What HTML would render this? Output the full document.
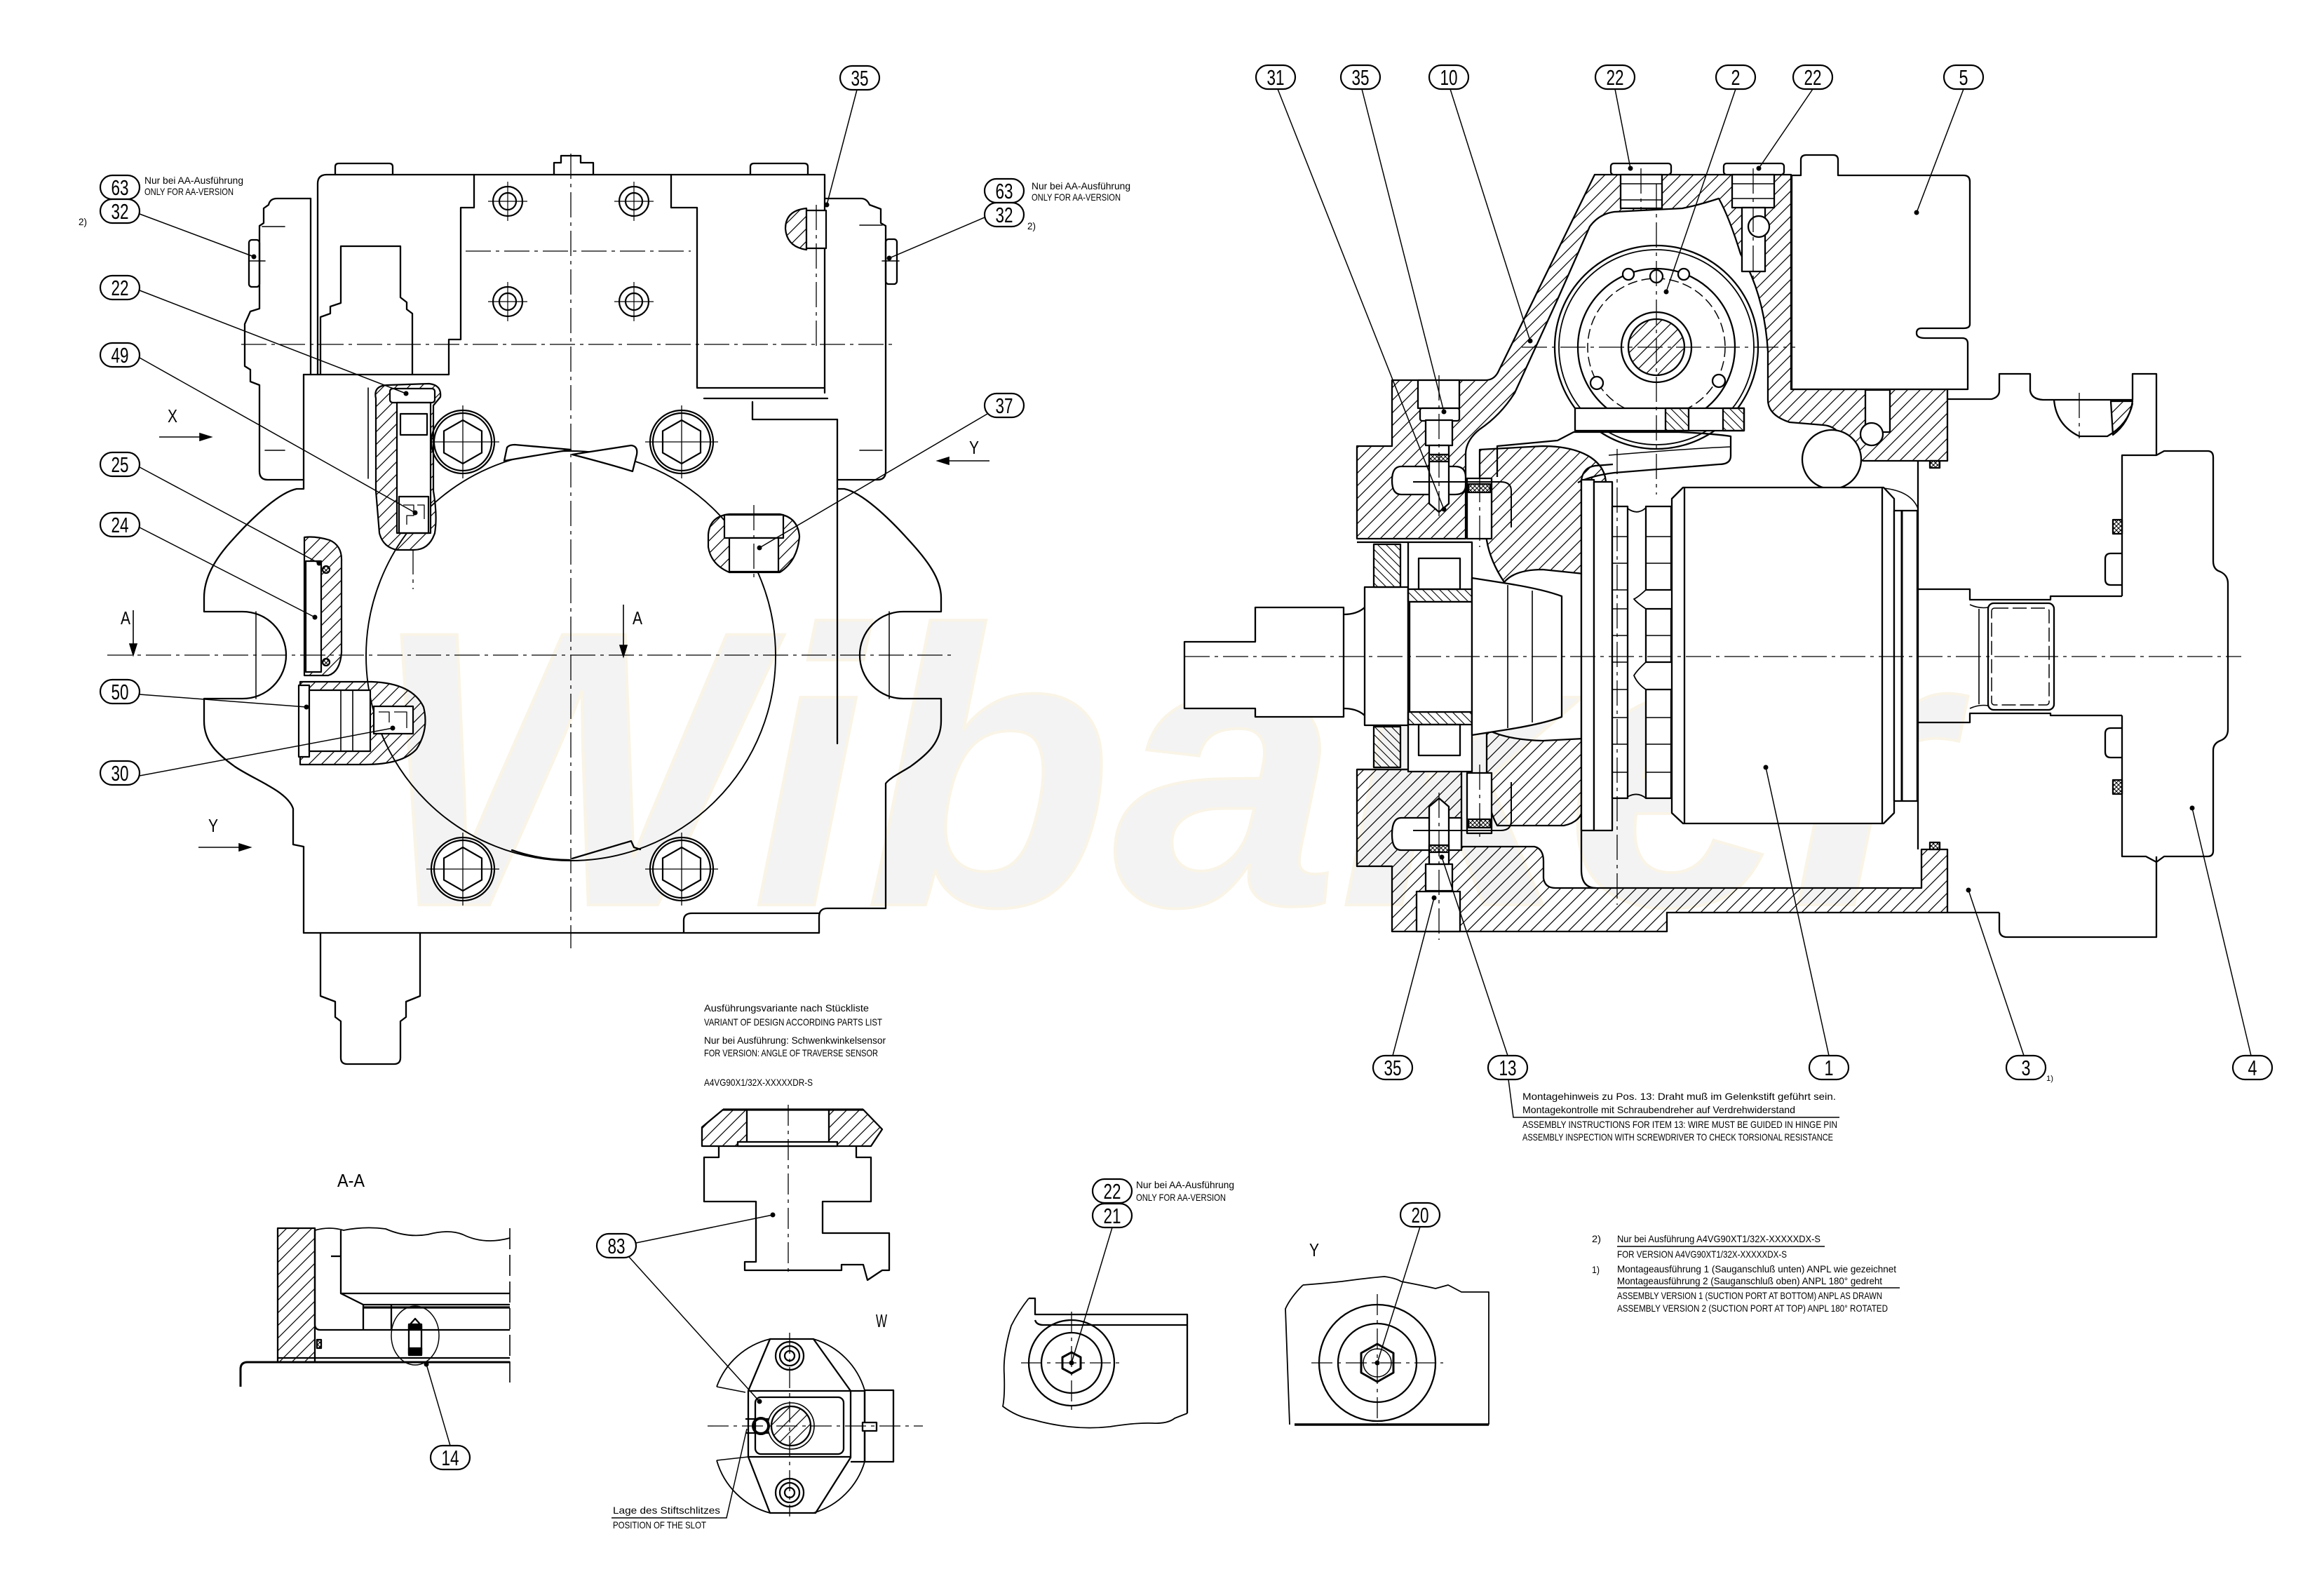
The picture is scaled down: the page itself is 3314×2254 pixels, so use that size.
<!DOCTYPE html>
<html><head><meta charset="utf-8">
<style>
html,body{margin:0;padding:0;background:#fff;}
svg{display:block;}
text{font-family:"Liberation Sans","DejaVu Sans",sans-serif;fill:#000;stroke:none;}
</style></head><body>
<svg width="3314" height="2254" viewBox="0 0 3314 2254" xmlns="http://www.w3.org/2000/svg">
<defs>
<pattern id="h" patternUnits="userSpaceOnUse" width="18" height="18"><path d="M-2,20 L20,-2 M-2,2 L2,-2 M16,20 L20,16" stroke="#000" stroke-width="1.2" fill="none"/></pattern>
<pattern id="h2" patternUnits="userSpaceOnUse" width="12" height="12"><path d="M-2,-2 L14,14 M-2,10 L2,14 M10,-2 L14,2" stroke="#000" stroke-width="1.1" fill="none"/></pattern>
<pattern id="hx" patternUnits="userSpaceOnUse" width="6" height="6"><path d="M0,6 L6,0 M0,0 L6,6" stroke="#000" stroke-width="1" fill="none"/></pattern>
<g id="bl">
<circle r="45" fill="#fff"/><circle r="41"/>
<polygon points="0,-31 27,-15.5 27,15.5 0,31 -27,15.5 -27,-15.5"/>
<path d="M-52,0 H52 M0,-52 V52" stroke-width="1.3"/>
</g>
<g id="bs">
<circle r="21" fill="#fff"/><circle r="12"/>
<path d="M-28,0 H28 M0,-28 V28" stroke-width="1.2"/>
</g>
</defs>

<!-- watermark -->
<text x="530" y="1290" font-size="560" font-weight="bold" font-style="italic" textLength="2250" lengthAdjust="spacingAndGlyphs" style="fill:#f3f3f3;stroke:#f9f4e6;stroke-width:4">Wibaker</text>

<!-- ================= LEFT VIEW ================= -->
<g fill="none" stroke="#000" stroke-width="2.3" stroke-linejoin="round" stroke-linecap="round">
<path d="M453,534 V262 Q453,249 466,249 H1176 V560"/>
<path d="M443,283 V534"/>
<path d="M478,249 V238 Q478,233 483,233 H555 Q560,233 560,238 V249"/>
<path d="M1070,249 V238 Q1070,233 1075,233 H1147 Q1152,233 1152,238 V249"/>
<path d="M790,249 V232 H800 V222 H828 V232 H846 V249"/>
<path d="M443,283 H395 Q385,283 383,292 L376,297 V318 L370,322 V440 L357,444 L349,462 V522 L357,527 V544 L370,549 V672 Q370,684 382,684 H433"/>
<rect x="355" y="342" width="15" height="67" rx="4"/>
<path d="M374,323 H406 M378,642 H406 M355,372 H378" stroke-width="1.6"/>
<path d="M1176,283 H1228 Q1236,283 1240,292 L1256,298 V318 L1263,322 V672 Q1263,684 1251,684 H1194"/>
<rect x="1263" y="341" width="16" height="64" rx="4"/>
<path d="M1226,321 H1258 M1226,642 H1258 M1258,372 H1282" stroke-width="1.6"/>
<path d="M1176,385 V465" stroke-width="1.6"/>
<path d="M676,249 V296 H657 V484 H640 V534 M433,534 H640"/>
<path d="M957,249 V296 H994 V553 H1176"/>
<path d="M1004,568 H1180 M1073,573 V598 H1194"/>
<path d="M457,534 V452 L471,447 V437 L486,432 V351 H571 V424 L580,431 V441 L588,447 V534"/>
<path d="M525,553 V682" stroke-width="1.6"/>
<path d="M433,534 V697 H423 C398,702 360,738 333,768 C305,798 291,825 291,852 V872 H346 A62,62 0 0 1 346,996 H291 V1028 C291,1058 310,1075 335,1093 C365,1113 410,1128 418,1153 V1204 L433,1207 V1330"/>
<path d="M365,872 V996" stroke-width="1.5"/>
<path d="M1194,697 H1204 C1229,702 1267,738 1294,768 C1322,798 1342,825 1342,852 V872 H1288 A62,62 0 0 0 1288,996 H1342 V1028 C1342,1058 1323,1075 1298,1093 C1280,1104 1268,1110 1263,1117 V1295 H1180 Q1168,1295 1168,1307 V1330"/>
<path d="M1268,872 V996" stroke-width="1.5"/>
<path d="M1194,598 V1060"/>
<path d="M433,1330 H1168 M975,1330 V1312 Q975,1302 987,1302 H1168"/>
<path d="M457,1330 V1420 L478,1428 V1450 L486,1456 V1508 Q486,1517 495,1517 H562 Q571,1517 571,1508 V1456 L579,1450 V1428 L599,1420 V1330"/>
<circle cx="814" cy="935" r="292" stroke-width="1.9"/>
<path d="M719,657 L723,638 Q726,634 734,634 L814,641 Z" fill="#fff"/>
<path d="M816,648 L900,635 Q910,636 908,648 L902,672 Q870,662 816,648 Z" fill="#fff"/>
<path d="M816,1224 L900,1199 L904,1208 L913,1211" />
<path d="M730,1212 Q770,1226 812,1226" />
</g>
<g fill="none" stroke="#000" stroke-width="2.2">
<use href="#bs" x="724" y="287"/><use href="#bs" x="904" y="287"/>
<use href="#bs" x="724" y="430"/><use href="#bs" x="904" y="430"/>
<use href="#bl" x="660" y="630"/><use href="#bl" x="972" y="630"/>
<use href="#bl" x="660" y="1239"/><use href="#bl" x="972" y="1239"/>
</g>
<g stroke="#000" stroke-width="2.2" stroke-linejoin="round">
<path d="M536,568 Q532,550 552,549 L612,547 Q630,549 628,566 L618,578 L618,700 Q624,735 620,760 Q612,784 590,784 L566,784 Q546,780 541,760 L536,700 Z" fill="url(#h)"/>
<rect x="556" y="554" width="64" height="20" rx="4" fill="#fff"/>
<rect x="566" y="574" width="48" height="186" fill="#fff"/>
<rect x="571" y="590" width="38" height="30" fill="none"/>
<rect x="569" y="708" width="42" height="52" fill="none"/>
<path d="M575,720 H590 V735 H580 V748 M595,720 H605 V740" fill="none" stroke-width="1.3"/>
<path d="M1010,762 Q1012,736 1040,733 L1112,733 Q1138,738 1140,765 Q1137,800 1112,816 L1040,816 Q1014,805 1010,780 Z" fill="url(#h)"/>
<rect x="1033" y="734" width="84" height="33" fill="#fff"/>
<rect x="1040" y="767" width="70" height="48" fill="#fff"/>
<path d="M434,766 Q450,764 470,770 Q488,778 487,800 L487,930 Q485,958 468,963 L434,963 Z" fill="url(#h)"/>
<rect x="436" y="800" width="22" height="158" fill="#fff"/>
<circle cx="465" cy="812" r="5" fill="url(#hx)"/><circle cx="465" cy="944" r="5" fill="url(#hx)"/>
<path d="M428,972 H530 Q588,974 604,1008 Q612,1040 594,1068 Q574,1090 520,1090 H428 Z" fill="url(#h)"/>
<rect x="426" y="977" width="15" height="102" fill="#fff"/>
<rect x="441" y="984" width="87" height="87" fill="#fff"/>
<path d="M486,984 V1071 M503,984 V1071" fill="none" stroke-width="1.6"/>
<rect x="533" y="1007" width="56" height="39" fill="#fff"/>
<path d="M540,1015 H555 V1030 M562,1015 H580 V1038" fill="none" stroke-width="1.3"/>
<path d="M1150,297 Q1120,300 1120,326 Q1122,352 1150,356 Z" fill="url(#h)"/>
<rect x="1150" y="300" width="28" height="54" fill="#fff"/>
</g>
<g fill="none" stroke="#000" stroke-width="1.3" stroke-dasharray="36 7 5 7">
<path d="M814,219 V1352"/>
<path d="M153,934 H1358"/>
<path d="M664,358 H985"/>
<path d="M344,491 H1275"/>
<path d="M589,783 V840"/>
<path d="M1075,720 V830"/>
<path d="M1164,292 V500"/>
</g>
<g stroke="#000" stroke-width="1.6" fill="#000">
<path d="M227,623 H290" fill="none"/><path d="M301,623 L285,618 V628 Z"/>
<path d="M283,1208 H346" fill="none"/><path d="M357,1208 L341,1203 V1213 Z"/>
<path d="M1411,657 H1348" fill="none"/><path d="M1337,657 L1353,652 V662 Z"/>
<path d="M190,870 V922" fill="none"/><path d="M190,934 L185,918 H195 Z"/>
<path d="M889,862 V924" fill="none"/><path d="M889,936 L884,920 H894 Z"/>
</g>
<g font-size="26">
<text x="239" y="602" textLength="14" lengthAdjust="spacingAndGlyphs">X</text>
<text x="297" y="1186" textLength="14" lengthAdjust="spacingAndGlyphs">Y</text>
<text x="1382" y="647" textLength="14" lengthAdjust="spacingAndGlyphs">Y</text>
<text x="172" y="890" textLength="14" lengthAdjust="spacingAndGlyphs">A</text>
<text x="902" y="890" textLength="14" lengthAdjust="spacingAndGlyphs">A</text>
</g>

<!-- ================= RIGHT VIEW ================= -->
<g stroke="#000" stroke-width="2.3" stroke-linejoin="round">
<path d="M1935,636 H1985 V542 H2118 Q2130,542 2136,531 L2274,249 H2554 V555 H2777 V657 H2657 Q2640,652 2636,640 L2625,620 Q2615,607 2600,606 L2552,602 Q2521,592 2521,570 V501 Q2516,420 2482,362 Q2466,310 2451,283 Q2420,293 2399,297 L2302,302 Q2280,305 2267,323 L2221,427 L2160,560 Q2140,592 2110,612 Q2090,628 2090,648 V768 H1935 Z" fill="url(#h)"/>
<path d="M1935,1097 H2084 V1207 H2188 Q2201,1210 2201,1228 V1252 Q2203,1266 2218,1266 H2740 V1211 H2777 V1301 H2377 V1328 H1985 V1235 H1935 Z" fill="url(#h)"/>
<path d="M2110,641 L2200,636 Q2240,636 2265,650 Q2290,665 2290,690 L2258,700 V818 L2200,812 Q2160,812 2145,830 Q2125,800 2120,770 L2110,700 Z" fill="url(#h)"/>
<path d="M2120,1040 Q2150,1055 2200,1056 L2258,1053 V1150 Q2255,1172 2230,1177 H2135 Q2120,1150 2120,1110 Z" fill="url(#h)"/>
<path d="M1998,665 H2075 Q2090,665 2090,680 V692 Q2090,705 2075,705 H1998 Q1985,705 1985,685 Q1985,665 1998,665 Z" fill="#fff"/>
<path d="M1998,1166 H2084 V1212 H1998 Q1985,1212 1985,1190 Q1985,1166 1998,1166 Z" fill="#fff"/>
<rect x="2022" y="542" width="59" height="40" fill="#fff"/>
<rect x="2025" y="582" width="56" height="18" rx="3" fill="#fff"/>
<rect x="2033" y="599" width="38" height="36" fill="#fff"/>
<path d="M2038,635 V718 L2052,730 L2066,718 V635 Z" fill="#fff"/>
<rect x="2038" y="648" width="28" height="10" fill="url(#hx)"/>
<rect x="2020" y="1271" width="62" height="57" fill="#fff"/>
<rect x="2033" y="1232" width="38" height="38" fill="#fff"/>
<path d="M2038,1232 V1150 L2052,1138 L2066,1150 V1232 Z" fill="#fff"/>
<rect x="2038" y="1205" width="28" height="10" fill="url(#hx)"/>
<rect x="2297" y="233" width="86" height="16" rx="4" fill="#fff"/>
<rect x="2311" y="249" width="59" height="48" fill="#fff"/>
<path d="M2311,262 H2370 M2311,285 H2370" fill="none" stroke-width="1.5"/>
<rect x="2458" y="233" width="86" height="16" rx="4" fill="#fff"/>
<rect x="2470" y="249" width="60" height="47" fill="#fff"/>
<rect x="2484" y="296" width="33" height="91" fill="#fff"/>
<circle cx="2508" cy="323" r="15" fill="#fff"/>
<path d="M2470,262 H2530 M2470,283 H2530" fill="none" stroke-width="1.5"/>
<path d="M2555,250 H2568 V228 Q2568,221 2576,221 H2614 Q2621,221 2621,228 V250 H2800 Q2809,250 2809,259 V462 Q2809,468 2800,468 H2740 Q2733,468 2733,475 Q2733,482 2745,482 H2798 Q2806,482 2806,490 V555 H2555 Z" fill="#fff"/>
<rect x="2660" y="556" width="35" height="60" fill="#fff"/>
<circle cx="2669" cy="619" r="16" fill="#fff"/>
<circle cx="2612" cy="655" r="42" fill="#fff"/>
<circle cx="2362" cy="495" r="145" fill="#fff"/>
<circle cx="2362" cy="495" r="139" fill="none" stroke-width="1.8"/>
<circle cx="2362" cy="495" r="112" fill="none"/>
<circle cx="2362" cy="495" r="98" fill="none" stroke-width="1.5" stroke-dasharray="14 6"/>
<circle cx="2362" cy="495" r="50" fill="#fff"/>
<circle cx="2362" cy="495" r="40" fill="url(#h)"/>
<circle cx="2322" cy="391" r="8" fill="#fff"/><circle cx="2362" cy="394" r="9" fill="#fff"/><circle cx="2401" cy="391" r="8" fill="#fff"/>
<circle cx="2277" cy="546" r="9" fill="#fff"/><circle cx="2451" cy="543" r="9" fill="#fff"/>
<rect x="2246" y="582" width="241" height="32" fill="#fff"/>
<rect x="2375" y="582" width="33" height="32" fill="url(#h2)"/>
<rect x="2457" y="582" width="30" height="32" fill="url(#h2)"/>
<path d="M2135,680 V636 Q2180,632 2221,628 L2244,616 H2394 Q2440,618 2468,622 V650 Q2468,662 2451,662 L2302,674 Q2270,678 2250,688" fill="none"/>
<path d="M2294,649 Q2400,640 2468,637" fill="none" stroke-width="1.5"/>
<path d="M2255,1240 V684 Q2258,666 2275,664 L2300,662 M2255,1240 Q2255,1266 2276,1266" fill="none"/>
<path d="M2735,657 V1211" fill="none"/>
<path d="M2686,696 Q2725,700 2735,725" fill="none" stroke-width="1.6"/>
<path d="M1689,915 H1790 V866 H1916 V1022 H1790 V1010 H1689 Z" fill="#fff"/>
<path d="M1916,876 Q1935,876 1946,866 M1916,1010 Q1935,1010 1946,1020" fill="none"/>
<rect x="1946" y="837" width="62" height="197" fill="#fff"/>
<path d="M1935,773 H2008 M1935,1097 H2008" fill="none"/>
<rect x="1959" y="776" width="38" height="61" fill="url(#h2)"/>
<rect x="1959" y="1036" width="38" height="58" fill="url(#h2)"/>
<rect x="2008" y="773" width="91" height="327" fill="#fff"/>
<rect x="2023" y="796" width="59" height="44" fill="#fff"/>
<rect x="2023" y="1033" width="59" height="44" fill="#fff"/>
<rect x="2008" y="840" width="91" height="18" fill="url(#h2)"/>
<rect x="2008" y="1015" width="91" height="18" fill="url(#h2)"/>
<rect x="2010" y="858" width="89" height="157" fill="#fff"/>
<path d="M2099,824 L2150,832 Q2200,840 2227,850 V1022 Q2200,1032 2150,1040 L2099,1048 Z" fill="#fff"/>
<path d="M2150,834 V1038 M2185,842 V1030 M2099,830 V1045" fill="none" stroke-width="1.6"/>
<rect x="2092" y="682" width="35" height="86" fill="#fff"/>
<rect x="2092" y="1102" width="35" height="86" fill="#fff"/>
<rect x="2094" y="690" width="31" height="12" fill="url(#hx)"/>
<rect x="2094" y="1168" width="31" height="12" fill="url(#hx)"/>
<path d="M2015,687 H2140 Q2155,687 2155,700 V752" fill="none" stroke-width="2"/>
<path d="M2015,1184 H2140 Q2155,1184 2155,1170 V1115" fill="none" stroke-width="2"/>
<rect x="2255" y="684" width="18" height="500" fill="#fff"/>
<rect x="2273" y="687" width="26" height="497" fill="#fff"/>
<rect x="2299" y="722" width="22" height="416" fill="#fff"/>
<path d="M2299,765 H2321 M2299,803 H2321 M2299,841 H2321 M2299,868 H2321 M2299,906 H2321 M2299,944 H2321 M2299,983 H2321 M2299,1023 H2321 M2299,1061 H2321 M2299,1101 H2321" fill="none" stroke-width="1.6"/>
<path d="M2321,725 Q2335,735 2347,724 V841 Q2335,852 2330,854 Q2335,860 2347,868 V944 Q2335,955 2330,963 Q2335,975 2347,983 V1138 Q2335,1128 2321,1136" fill="none" stroke-width="1.8"/>
<rect x="2347" y="722" width="36" height="119" fill="#fff"/>
<rect x="2347" y="868" width="36" height="76" fill="#fff"/>
<rect x="2347" y="983" width="36" height="155" fill="#fff"/>
<path d="M2347,765 H2383 M2347,803 H2383 M2347,906 H2383 M2347,1023 H2383 M2347,1061 H2383 M2347,1101 H2383" fill="none" stroke-width="1.6"/>
<path d="M2400,695 H2686 L2701,711 V1159 L2686,1174 H2400 L2384,1159 V711 Z" fill="#fff"/>
<path d="M2402,695 V1174 M2684,695 V1174" fill="none"/>
<rect x="2701" y="728" width="33" height="414" fill="#fff"/>
<path d="M2712,728 V1142" fill="none" stroke-width="3"/>
<path d="M2777,569 H2840 Q2851,566 2851,557 V533 H2895 V557 Q2897,569 2913,570 H3041 V533 H3075 V649" fill="none"/>
<path d="M2929,570 Q2932,606 2965,622 H3005 Q3035,605 3041,575" fill="none"/>
<path d="M3010,572 H3041 Q3036,603 3013,620 Z" fill="url(#h)"/>
<path d="M3075,1221 V1336 H2862 Q2851,1336 2851,1325 V1301 M2777,1301 H2851" fill="none"/>
<path d="M2735,840 H2809 V855 H2924 V850 H3026 M2735,1030 H2809 V1017 H2924 V1020 H3026" fill="none"/>
<rect x="2835" y="860" width="94" height="152" rx="8" fill="#fff"/>
<rect x="2840" y="867" width="82" height="138" rx="4" fill="none" stroke-width="1.5" stroke-dasharray="20 6"/>
<path d="M2809,862 Q2822,868 2835,866 M2809,1010 Q2822,1004 2835,1006 M2822,868 V1004" fill="none" stroke-width="1.6"/>
<path d="M3026,850 V649 H3075 L3086,643 H3148 Q3156,643 3156,652 V800 Q3156,812 3166,815 Q3177,820 3177,832 V1040 Q3177,1052 3166,1056 Q3156,1060 3156,1070 V1213 Q3156,1221 3148,1221 H3086 L3075,1229 L3060,1221 H3026 V1020" fill="none"/>
<path d="M3026,789 H3010 Q3002,789 3002,797 V826 Q3002,834 3010,834 H3026 M3026,1038 H3010 Q3002,1038 3002,1046 V1072 Q3002,1080 3010,1080 H3026" fill="none"/>
<rect x="3013" y="741" width="13" height="20" fill="url(#hx)"/>
<rect x="3013" y="1112" width="13" height="20" fill="url(#hx)"/>
<rect x="2752" y="657" width="14" height="10" fill="url(#hx)"/>
<rect x="2752" y="1201" width="14" height="10" fill="url(#hx)"/>
</g>
<g fill="none" stroke="#000" stroke-width="1.3" stroke-dasharray="36 7 5 7">
<path d="M1689,936 H3196"/>
<path d="M2170,495 H2560"/>
<path d="M2362,262 V705"/>
<path d="M2306,640 V1290"/>
<path d="M2052,535 V740 M2052,1130 V1340"/>
<path d="M2965,560 V625"/>
<path d="M2500,240 V400"/>
<path d="M2340,240 V300"/>
<path d="M2110,680 V780 M2110,1090 V1195"/>
</g>

<!-- ================= BOTTOM DETAILS ================= -->
<g fill="none" stroke="#000" stroke-width="2.3" stroke-linejoin="round">
<rect x="396" y="1751" width="53" height="191" fill="url(#h)"/>
<path d="M343,1977 V1952 Q343,1942 353,1942 H727" stroke-width="3"/>
<path d="M396,1936 H727"/>
<path d="M449,1754 V1888 Q449,1896 457,1896 H727"/>
<path d="M486,1754 V1844 L518,1860 H727 M486,1844 H727"/>
<path d="M518,1864 H727" stroke-width="3.2"/>
<path d="M518,1860 V1896 M558,1860 V1896"/>
<path d="M449,1754 Q470,1748 490,1754 Q520,1748 550,1752 Q580,1765 610,1760 Q640,1752 660,1760 Q690,1775 727,1765" stroke-width="1.8"/>
<path d="M727,1751 V1975" stroke-width="1.6" stroke-dasharray="30 8"/>
<path d="M472,1791 H486"/>
<ellipse cx="592" cy="1904" rx="34" ry="42" stroke-width="1.5"/>
<path d="M583,1932 V1890 L592,1880 L601,1890 V1932 Z" fill="#fff"/>
<rect x="583" y="1888" width="18" height="8" fill="#000"/>
<rect x="583" y="1922" width="18" height="8" fill="#000"/>
<rect x="452" y="1910" width="6" height="12" fill="url(#hx)"/>
<path d="M1031,1582 H1231 L1258,1610 L1242,1634 H1001 V1607 Z" fill="url(#h)"/>
<rect x="1065" y="1582" width="117" height="47" fill="#fff"/>
<rect x="1052" y="1628" width="142" height="6" fill="#fff"/>
<path d="M1031,1582 H1231" stroke-width="3.2"/>
<path d="M1025,1634 V1650 H1004 V1713 H1078 V1799 H1062 V1811 H1200 V1803 H1231 L1237,1825 L1258,1811 H1268 V1758 H1173 V1713 H1242 V1650 H1221 V1634"/>
<path d="M1098,1909 H1160 L1213,1983 V2078 L1163,2157 H1098 L1067,2077 V1983 Z" fill="#fff"/>
<path d="M1067,1983 H1213 M1067,2077 H1213"/>
<rect x="1077" y="1992" width="126" height="81" rx="8"/>
<path d="M1213,1983 H1233 V2084 H1213"/>
<rect x="1233" y="1982" width="41" height="102"/>
<rect x="1230" y="2028" width="20" height="12" fill="#fff"/>
<path d="M1098,1909 A108,108 0 0 0 1022,1977 M1022,2082 A108,108 0 0 0 1098,2157 M1160,1909 A108,108 0 0 1 1233,1982 M1233,2084 A108,108 0 0 1 1160,2157" stroke-width="1.8"/>
<path d="M1022,1977 L1063,1985 M1022,2082 L1067,2077" stroke-width="1.6"/>
<path d="M1063,2023 H1097 M1063,2043 H1097"/>
<circle cx="1128" cy="2033" r="33" fill="#fff" stroke-width="1.6"/>
<circle cx="1128" cy="2033" r="28" fill="url(#h)"/>
<circle cx="1085" cy="2033" r="11" stroke-width="4"/>
<circle cx="1126" cy="1933" r="20"/><circle cx="1126" cy="1933" r="14"/><circle cx="1126" cy="1933" r="7"/>
<circle cx="1126" cy="2128" r="20"/><circle cx="1126" cy="2128" r="14"/><circle cx="1126" cy="2128" r="7"/>
<path d="M1467,1851 Q1452,1870 1442,1890 Q1430,1930 1432,1960 Q1433,1990 1430,2005 Q1450,2020 1473,2024 Q1530,2040 1583,2034 Q1620,2028 1644,2029 Q1665,2030 1675,2022 Q1685,2018 1693,2015" stroke-width="1.8"/>
<path d="M1467,1851 H1476 V1874 H1693 V2015"/>
<path d="M1476,1882 Q1478,1889 1488,1889 H1693"/>
<circle cx="1528" cy="1943" r="61"/><circle cx="1528" cy="1943" r="43"/>
<polygon points="1528,1928 1541,1935 1541,1951 1528,1958 1515,1951 1515,1935" stroke-width="3"/>
<path d="M1858,1832 Q1885,1830 1913,1827 Q1950,1822 1974,1820 Q1990,1822 1998,1827 Q2025,1832 2047,1837 L2065,1832 L2084,1842 H2123 V2031" stroke-width="1.8"/>
<path d="M1858,1832 Q1840,1850 1833,1866 Q1836,1950 1839,2031" stroke-width="1.8"/>
<path d="M1846,2031 H2123" stroke-width="3.6"/>
<circle cx="1964" cy="1943" r="83"/><circle cx="1964" cy="1943" r="56"/>
<polygon points="1964,1916 1987,1929 1987,1957 1964,1970 1941,1957 1941,1929" stroke-width="3"/>
<circle cx="1964" cy="1943" r="20" stroke-width="1.5"/>
</g>
<g fill="none" stroke="#000" stroke-width="1.3" stroke-dasharray="30 7 5 7">
<path d="M1124,1575 V1814"/>
<path d="M1009,2033 H1316"/>
<path d="M1126,1900 V2162"/>
<path d="M1456,1943 H1600 M1528,1870 V2016"/>
<path d="M1870,1943 H2058 M1964,1845 V2030"/>
</g>

<!-- ================= LEADERS ================= -->
<g fill="none" stroke="#000" stroke-width="1.5">
<path d="M199,305 L362,366"/>
<path d="M199,414 L579,561"/>
<path d="M199,510 L592,731"/>
<path d="M199,666 L455,803"/>
<path d="M199,752 L449,880"/>
<path d="M199,990 L437,1008"/>
<path d="M199,1106 L560,1038"/>
<path d="M1222,128 L1179,292"/>
<path d="M1408,590 L1083,781"/>
<path d="M1404,310 L1268,368"/>
<path d="M1822,127 L2059,726"/>
<path d="M1942,127 L2059,587"/>
<path d="M2068,127 L2182,486"/>
<path d="M2303,127 L2325,240"/>
<path d="M2475,127 L2376,416"/>
<path d="M2585,127 L2508,240"/>
<path d="M2800,127 L2733,303"/>
<path d="M1986,1505 L2045,1280"/>
<path d="M2150,1505 L2056,1222"/>
<path d="M2608,1505 L2518,1094"/>
<path d="M2886,1505 L2807,1269"/>
<path d="M3210,1505 L3126,1152"/>
<path d="M2151,1539 L2158,1593 H2623"/>
<path d="M642,2061 L608,1945"/>
<path d="M907,1772 L1102,1732"/>
<path d="M897,1792 L1083,1998"/>
<path d="M872,2164 H1036 L1065,2037"/>
<path d="M1586,1750 L1528,1943"/>
<path d="M2025,1749 L1964,1943"/>
<path d="M2306,1777 H2602"/>
<path d="M2306,1836 H2709"/>
</g>
<g fill="#000">
<circle cx="362" cy="366" r="3.5"/><circle cx="579" cy="561" r="3.5"/><circle cx="592" cy="731" r="3.5"/>
<circle cx="455" cy="803" r="3.5"/><circle cx="449" cy="880" r="3.5"/><circle cx="437" cy="1008" r="3.5"/>
<circle cx="560" cy="1038" r="3.5"/><circle cx="1179" cy="292" r="3.5"/><circle cx="1083" cy="781" r="3.5"/>
<circle cx="1268" cy="368" r="3.5"/><circle cx="2059" cy="726" r="3.5"/><circle cx="2059" cy="587" r="3.5"/>
<circle cx="2182" cy="486" r="3.5"/><circle cx="2325" cy="240" r="3.5"/><circle cx="2376" cy="416" r="3.5"/>
<circle cx="2508" cy="240" r="3.5"/><circle cx="2733" cy="303" r="3.5"/><circle cx="2045" cy="1280" r="3.5"/>
<circle cx="2056" cy="1222" r="3.5"/><circle cx="2518" cy="1094" r="3.5"/><circle cx="2807" cy="1269" r="3.5"/>
<circle cx="3126" cy="1152" r="3.5"/><circle cx="608" cy="1945" r="3.5"/><circle cx="1102" cy="1732" r="3.5"/>
<circle cx="1083" cy="1998" r="3.5"/><circle cx="1528" cy="1943" r="3.5"/><circle cx="1964" cy="1943" r="3.5"/>
</g>

<!-- ================= CALLOUTS ================= -->
<g fill="#fff" stroke="#000" stroke-width="2.2">
<rect x="143" y="250" width="56" height="34" rx="17"/>
<rect x="143" y="284" width="56" height="34" rx="17"/>
<rect x="143" y="393" width="56" height="34" rx="17"/>
<rect x="143" y="489" width="56" height="34" rx="17"/>
<rect x="143" y="645" width="56" height="34" rx="17"/>
<rect x="143" y="731" width="56" height="34" rx="17"/>
<rect x="143" y="969" width="56" height="34" rx="17"/>
<rect x="143" y="1085" width="56" height="34" rx="17"/>
<rect x="1198" y="94" width="56" height="34" rx="17"/>
<rect x="1404" y="561" width="56" height="34" rx="17"/>
<rect x="1404" y="255" width="56" height="34" rx="17"/>
<rect x="1404" y="289" width="56" height="34" rx="17"/>
<rect x="1791" y="93" width="56" height="34" rx="17"/>
<rect x="1912" y="93" width="56" height="34" rx="17"/>
<rect x="2038" y="93" width="56" height="34" rx="17"/>
<rect x="2275" y="93" width="56" height="34" rx="17"/>
<rect x="2447" y="93" width="56" height="34" rx="17"/>
<rect x="2557" y="93" width="56" height="34" rx="17"/>
<rect x="2772" y="93" width="56" height="34" rx="17"/>
<rect x="1958" y="1505" width="56" height="34" rx="17"/>
<rect x="2122" y="1505" width="56" height="34" rx="17"/>
<rect x="2580" y="1505" width="56" height="34" rx="17"/>
<rect x="2861" y="1505" width="56" height="34" rx="17"/>
<rect x="3184" y="1505" width="56" height="34" rx="17"/>
<rect x="614" y="2061" width="56" height="34" rx="17"/>
<rect x="851" y="1759" width="56" height="34" rx="17"/>
<rect x="1558" y="1681" width="56" height="34" rx="17"/>
<rect x="1558" y="1716" width="56" height="34" rx="17"/>
<rect x="1997" y="1715" width="56" height="34" rx="17"/>
</g>
<g font-size="31" text-anchor="middle">
<text x="171" y="278" textLength="25" lengthAdjust="spacingAndGlyphs">63</text>
<text x="171" y="312" textLength="25" lengthAdjust="spacingAndGlyphs">32</text>
<text x="171" y="421" textLength="25" lengthAdjust="spacingAndGlyphs">22</text>
<text x="171" y="517" textLength="25" lengthAdjust="spacingAndGlyphs">49</text>
<text x="171" y="673" textLength="25" lengthAdjust="spacingAndGlyphs">25</text>
<text x="171" y="759" textLength="25" lengthAdjust="spacingAndGlyphs">24</text>
<text x="171" y="997" textLength="25" lengthAdjust="spacingAndGlyphs">50</text>
<text x="171" y="1113" textLength="25" lengthAdjust="spacingAndGlyphs">30</text>
<text x="1226" y="122" textLength="25" lengthAdjust="spacingAndGlyphs">35</text>
<text x="1432" y="589" textLength="25" lengthAdjust="spacingAndGlyphs">37</text>
<text x="1432" y="283" textLength="25" lengthAdjust="spacingAndGlyphs">63</text>
<text x="1432" y="317" textLength="25" lengthAdjust="spacingAndGlyphs">32</text>
<text x="1819" y="121" textLength="25" lengthAdjust="spacingAndGlyphs">31</text>
<text x="1940" y="121" textLength="25" lengthAdjust="spacingAndGlyphs">35</text>
<text x="2066" y="121" textLength="25" lengthAdjust="spacingAndGlyphs">10</text>
<text x="2303" y="121" textLength="25" lengthAdjust="spacingAndGlyphs">22</text>
<text x="2475" y="121" textLength="13" lengthAdjust="spacingAndGlyphs">2</text>
<text x="2585" y="121" textLength="25" lengthAdjust="spacingAndGlyphs">22</text>
<text x="2800" y="121" textLength="13" lengthAdjust="spacingAndGlyphs">5</text>
<text x="1986" y="1533" textLength="25" lengthAdjust="spacingAndGlyphs">35</text>
<text x="2150" y="1533" textLength="25" lengthAdjust="spacingAndGlyphs">13</text>
<text x="2608" y="1533" textLength="13" lengthAdjust="spacingAndGlyphs">1</text>
<text x="2889" y="1533" textLength="13" lengthAdjust="spacingAndGlyphs">3</text>
<text x="3212" y="1533" textLength="13" lengthAdjust="spacingAndGlyphs">4</text>
<text x="642" y="2089" textLength="25" lengthAdjust="spacingAndGlyphs">14</text>
<text x="879" y="1787" textLength="25" lengthAdjust="spacingAndGlyphs">83</text>
<text x="1586" y="1709" textLength="25" lengthAdjust="spacingAndGlyphs">22</text>
<text x="1586" y="1744" textLength="25" lengthAdjust="spacingAndGlyphs">21</text>
<text x="2025" y="1743" textLength="25" lengthAdjust="spacingAndGlyphs">20</text>
</g>

<!-- ================= TEXT NOTES ================= -->
<g font-size="14">
<text x="206" y="262" textLength="141" lengthAdjust="spacingAndGlyphs">Nur bei AA-Ausführung</text>
<text x="206" y="278" textLength="127" lengthAdjust="spacingAndGlyphs">ONLY FOR AA-VERSION</text>
<text x="112" y="321" textLength="12" lengthAdjust="spacingAndGlyphs">2)</text>
<text x="1471" y="270" textLength="141" lengthAdjust="spacingAndGlyphs">Nur bei AA-Ausführung</text>
<text x="1471" y="286" textLength="127" lengthAdjust="spacingAndGlyphs">ONLY FOR AA-VERSION</text>
<text x="1465" y="327" textLength="12" lengthAdjust="spacingAndGlyphs">2)</text>
<text x="1620" y="1694" textLength="140" lengthAdjust="spacingAndGlyphs">Nur bei AA-Ausführung</text>
<text x="1620" y="1712" textLength="128" lengthAdjust="spacingAndGlyphs">ONLY FOR AA-VERSION</text>
<text x="2918" y="1541" font-size="11" textLength="10" lengthAdjust="spacingAndGlyphs">1)</text>
<text x="1004" y="1442" textLength="235" lengthAdjust="spacingAndGlyphs">Ausführungsvariante nach Stückliste</text>
<text x="1004" y="1462" textLength="254" lengthAdjust="spacingAndGlyphs">VARIANT OF DESIGN ACCORDING PARTS LIST</text>
<text x="1004" y="1488" textLength="259" lengthAdjust="spacingAndGlyphs">Nur bei Ausführung: Schwenkwinkelsensor</text>
<text x="1004" y="1506" textLength="248" lengthAdjust="spacingAndGlyphs">FOR VERSION: ANGLE OF TRAVERSE SENSOR</text>
<text x="1004" y="1548" textLength="155" lengthAdjust="spacingAndGlyphs">A4VG90X1/32X-XXXXXDR-S</text>
<text x="874" y="2158" textLength="153" lengthAdjust="spacingAndGlyphs">Lage des Stiftschlitzes</text>
<text x="874" y="2179" textLength="133" lengthAdjust="spacingAndGlyphs">POSITION OF THE SLOT</text>
<text x="2171" y="1568" textLength="447" lengthAdjust="spacingAndGlyphs">Montagehinweis zu Pos. 13: Draht muß im Gelenkstift geführt sein.</text>
<text x="2171" y="1587" textLength="389" lengthAdjust="spacingAndGlyphs">Montagekontrolle mit Schraubendreher auf Verdrehwiderstand</text>
<text x="2171" y="1608" textLength="449" lengthAdjust="spacingAndGlyphs">ASSEMBLY INSTRUCTIONS FOR ITEM 13: WIRE MUST BE GUIDED IN HINGE PIN</text>
<text x="2171" y="1626" textLength="443" lengthAdjust="spacingAndGlyphs">ASSEMBLY INSPECTION WITH SCREWDRIVER TO CHECK TORSIONAL RESISTANCE</text>
<text x="2270" y="1771" textLength="13" lengthAdjust="spacingAndGlyphs">2)</text>
<text x="2306" y="1771" textLength="290" lengthAdjust="spacingAndGlyphs">Nur bei Ausführung A4VG90XT1/32X-XXXXXDX-S</text>
<text x="2306" y="1793" textLength="242" lengthAdjust="spacingAndGlyphs">FOR VERSION A4VG90XT1/32X-XXXXXDX-S</text>
<text x="2270" y="1815" textLength="11" lengthAdjust="spacingAndGlyphs">1)</text>
<text x="2306" y="1814" textLength="398" lengthAdjust="spacingAndGlyphs">Montageausführung 1 (Sauganschluß unten) ANPL wie gezeichnet</text>
<text x="2306" y="1831" textLength="378" lengthAdjust="spacingAndGlyphs">Montageausführung 2 (Sauganschluß oben) ANPL 180° gedreht</text>
<text x="2306" y="1852" textLength="378" lengthAdjust="spacingAndGlyphs">ASSEMBLY VERSION 1 (SUCTION PORT AT BOTTOM) ANPL AS DRAWN</text>
<text x="2306" y="1870" textLength="386" lengthAdjust="spacingAndGlyphs">ASSEMBLY VERSION 2 (SUCTION PORT AT TOP) ANPL 180° ROTATED</text>
</g>
<g font-size="26">
<text x="481" y="1692" textLength="39" lengthAdjust="spacingAndGlyphs">A-A</text>
<text x="1249" y="1892" textLength="16" lengthAdjust="spacingAndGlyphs">W</text>
<text x="1867" y="1791" textLength="14" lengthAdjust="spacingAndGlyphs">Y</text>
</g>
</svg>
</body></html>
